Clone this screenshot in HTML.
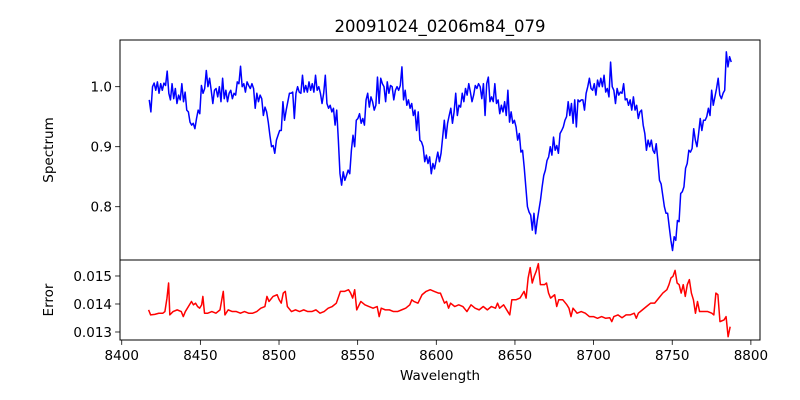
<!DOCTYPE html>
<html><head><meta charset="utf-8"><style>
body{margin:0;background:#fff;}
svg{display:block;font-family:"DejaVu Sans","Liberation Sans",sans-serif;}
</style></head><body>
<svg id="chart" width="800" height="400" viewBox="0 0 800 400">
<rect width="800" height="400" fill="#fff"/>
<text x="440" y="32" text-anchor="middle" font-size="16.5">20091024_0206m84_079</text>
<g id="topPanel"></g>
<g id="botPanel"></g>
<text transform="translate(53,150) rotate(-90)" text-anchor="middle" font-size="13.5">Spectrum</text>
<text transform="translate(53,300) rotate(-90)" text-anchor="middle" font-size="13.5">Error</text>
<text x="440" y="380" text-anchor="middle" font-size="13.5">Wavelength</text>
</svg>
<script>
const xTicks=[8400,8450,8500,8550,8600,8650,8700,8750,8800];
const specTicks=[0.8,0.9,1.0];
const specTickLabels=["0.8","0.9","1.0"];
const errTicks=[0.013,0.014,0.015];
const errTickLabels=["0.013","0.014","0.015"];
const specStart=8417.5, specEnd=8787.5;
const flux=[0.978,0.958,1.000,1.006,0.994,1.008,0.989,1.005,0.994,1.006,1.002,1.026,0.989,0.978,1.005,0.980,0.997,0.972,0.986,0.978,1.005,0.975,0.991,0.961,0.958,0.941,0.936,0.939,0.930,0.947,0.961,0.955,1.002,0.989,0.997,1.027,1.000,1.014,0.994,0.972,0.994,0.997,0.983,1.000,0.975,1.014,0.980,0.994,0.975,0.989,0.994,0.980,0.989,0.986,1.008,1.005,1.034,1.000,1.005,0.991,1.008,1.002,0.997,1.005,0.997,0.964,0.989,0.975,0.986,0.980,0.952,0.966,0.958,0.941,0.919,0.900,0.902,0.889,0.911,0.919,0.927,0.927,0.975,0.944,0.961,0.975,0.989,0.989,0.991,0.947,0.989,1.000,0.991,0.989,1.019,0.991,1.002,0.991,1.008,0.994,1.005,0.991,1.019,0.994,1.000,0.989,0.972,0.989,1.019,0.972,0.964,0.969,0.958,0.964,0.936,0.961,0.911,0.855,0.836,0.858,0.844,0.852,0.861,0.855,0.894,0.919,0.900,0.944,0.947,0.955,0.939,0.947,0.936,0.978,0.989,0.966,0.983,0.975,0.961,0.969,1.016,0.972,1.014,1.005,1.000,0.975,1.008,0.989,1.002,1.000,0.978,0.994,1.000,0.994,1.002,1.033,0.978,0.994,0.969,0.978,0.964,0.972,0.952,0.961,0.927,0.958,0.911,0.908,0.900,0.875,0.886,0.872,0.883,0.855,0.872,0.863,0.877,0.891,
0.875,0.889,0.916,0.944,0.914,0.939,0.952,0.964,0.939,0.958,0.989,0.952,0.969,0.966,0.989,0.975,0.997,0.986,1.005,0.991,0.975,0.986,1.002,0.997,1.005,1.000,0.980,1.005,0.952,1.005,1.016,0.975,0.983,0.975,1.005,0.972,0.978,0.955,0.969,0.958,0.975,0.952,0.994,0.941,0.958,0.939,0.944,0.933,0.911,0.922,0.891,0.894,0.866,0.833,0.800,0.791,0.786,0.761,0.789,0.755,0.777,0.794,0.811,0.833,0.852,0.861,0.877,0.883,0.900,0.886,0.916,0.894,0.902,0.889,0.922,0.927,0.933,0.944,0.950,0.975,0.952,0.972,0.939,0.978,0.933,0.978,0.975,0.978,0.978,0.961,0.989,1.000,1.014,0.997,0.994,1.005,0.986,1.011,1.000,1.014,1.000,1.019,0.991,0.997,0.983,1.041,1.000,0.994,0.972,0.997,0.986,0.991,0.989,1.005,0.978,0.980,0.969,0.978,0.961,0.983,0.961,0.969,0.947,0.958,0.961,0.936,0.922,0.894,0.911,0.900,0.911,0.894,0.889,0.905,0.877,0.844,0.838,0.819,0.800,0.789,0.789,0.766,0.744,0.727,0.750,0.744,0.777,0.775,0.822,0.825,0.833,0.864,0.872,0.894,0.891,0.897,0.930,0.911,0.900,0.922,0.947,0.927,0.944,0.944,0.950,0.964,0.952,0.994,0.969,0.983,0.997,1.014,0.986,0.980,0.989,0.994,1.058,1.033,1.050,1.041];
const errWl=[8417.08,8418.38,8420.97,8423.57,8426.16,8427.46,8428.76,8429.80,8430.57,8432.65,8435.25,8437.84,8439.14,8440.44,8443.03,8444.33,8445.62,8446.92,8448.22,8449.52,8450.81,8451.59,8452.63,8454.71,8457.30,8459.90,8462.49,8463.79,8464.57,8465.61,8467.68,8470.28,8472.87,8475.46,8478.06,8480.65,8483.25,8485.84,8488.44,8491.03,8492.33,8493.63,8496.22,8498.81,8500.11,8501.41,8502.71,8504.00,8505.30,8507.90,8510.49,8513.09,8515.68,8518.28,8520.87,8523.47,8526.06,8528.66,8531.25,8533.84,8536.44,8539.03,8541.63,8544.22,8545.52,8546.82,8548.12,8549.41,8552.01,8554.60,8557.20,8559.79,8562.39,8563.68,8564.98,8567.58,8570.17,8572.77,8575.36,8577.95,8580.55,8583.14,8584.44,8585.74,8588.33,8590.93,8593.52,8596.12,8598.71,8601.31,8602.60,8603.90,8605.20,8606.50,8607.79,8609.09,8611.69,8614.28,8616.87,8619.47,8622.06,8624.66,8627.25,8629.85,8632.44,8635.04,8637.63,8638.93,8640.23,8642.82,8645.42,8646.71,8648.01,8650.61,8653.20,8655.80,8657.09,8658.39,8659.69,8660.99,8662.28,8663.58,8664.88,8666.17,8668.77,8670.07,8671.36,8672.66,8675.26,8676.55,8677.85,8680.44,8683.04,8684.34,8685.63,8686.93,8689.53,8692.12,8694.72,8697.31,8699.90,8702.50,8705.09,8707.69,8710.28,8711.58,8712.88,8715.47,8718.07,8720.66,8723.26,8725.85,8727.15,8728.45,8731.04,8733.64,8736.23,8738.83,8741.42,8744.02,8746.61,8747.91,8749.21,8750.50,8751.80,8753.10,8754.39,8755.69,8756.99,8758.29,8759.58,8760.88,8762.18,8763.47,8764.77,8766.07,8767.37,8769.96,8772.55,8775.15,8776.45,8777.75,8779.04,8780.34,8782.93,8784.23,8785.53,8786.83];
const errVal=[13.79,13.61,13.63,13.67,13.67,13.73,14.21,14.75,13.61,13.73,13.79,13.73,13.55,13.73,13.97,14.09,13.97,14.03,13.91,13.85,13.97,14.27,13.67,13.67,13.73,13.67,13.79,14.21,14.45,13.61,13.79,13.73,13.73,13.67,13.73,13.67,13.67,13.73,13.85,13.91,14.27,14.09,14.27,14.33,14.15,14.03,14.39,14.45,13.91,13.73,13.79,13.73,13.79,13.73,13.73,13.79,13.67,13.73,13.85,13.91,14.03,14.45,14.45,14.51,14.39,14.21,14.51,13.79,14.09,13.97,13.91,13.85,13.91,13.55,13.85,13.79,13.79,13.73,13.73,13.79,13.85,13.97,14.15,14.09,14.03,14.33,14.45,14.51,14.45,14.39,14.39,14.21,14.03,14.09,13.85,14.03,13.91,13.97,13.91,13.73,13.97,13.85,13.79,13.91,13.79,13.91,13.85,14.03,13.85,13.97,13.73,13.61,14.15,14.15,14.21,14.45,14.21,14.93,15.30,14.75,14.99,15.18,15.44,14.69,14.69,14.75,14.39,14.21,14.33,13.91,14.15,14.15,13.97,13.85,13.55,13.85,13.67,13.73,13.67,13.55,13.55,13.49,13.55,13.49,13.51,13.37,13.55,13.61,13.51,13.61,13.61,13.67,13.49,13.67,13.79,13.91,14.03,14.03,14.21,14.39,14.51,14.69,14.93,14.99,15.20,14.75,14.69,14.39,14.69,14.27,14.69,14.87,14.39,14.15,13.67,14.09,13.73,13.73,13.73,13.67,13.61,14.39,14.33,13.37,13.43,13.55,12.83,13.19];

const NS="http://www.w3.org/2000/svg";
const L=120,R=760;
const X0=8398.9,X1=8805.8;
function sx(v){return L+(v-X0)/(X1-X0)*(R-L);}
const topT=40,topB=260,Y0=0.7112,Y1=1.0778;
function sy(v){return topB-(v-Y0)/(Y1-Y0)*(topB-topT);}
const botT=260,botB=340,E0=12.714,E1=15.571;
function se(v){return botB-(v-E0)/(E1-E0)*(botB-botT);}
function mk(tag,attrs,parent){const e=document.createElementNS(NS,tag);for(const k in attrs)e.setAttribute(k,attrs[k]);parent.appendChild(e);return e;}
const topG=document.getElementById('topPanel'),botG=document.getElementById('botPanel');

let d="";
const n=flux.length;
for(let i=0;i<n;i++){const w=specStart+(specEnd-specStart)*i/(n-1);d+=(i?"L":"M")+sx(w).toFixed(2)+","+sy(flux[i]).toFixed(2);}
const sp=mk('path',{d:d,fill:"none",stroke:"#0000ff","stroke-width":1.5,"stroke-linejoin":"round"},topG);


let d2="";
const m=Math.min(errWl.length,errVal.length);
for(let i=0;i<m;i++){d2+=(i?"L":"M")+sx(errWl[i]).toFixed(2)+","+se(errVal[i]).toFixed(2);}
const ep=mk('path',{d:d2,fill:"none",stroke:"#ff0000","stroke-width":1.5,"stroke-linejoin":"round"},botG);



const f1=mk('rect',{x:L,y:topT,width:R-L,height:topB-topT,fill:"none",stroke:"#000","stroke-width":1},topG);


const f2=mk('rect',{x:L,y:botT,width:R-L,height:botB-botT,fill:"none",stroke:"#000","stroke-width":1},botG);



specTicks.forEach((t,i)=>{const y=sy(t);
 mk('line',{x1:L-4.9,x2:L,y1:y,y2:y,stroke:"#000","stroke-width":0.8},topG);
 const tx=mk('text',{x:L-8,y:y+4.8,"text-anchor":"end","font-size":13.5},topG);tx.textContent=specTickLabels[i];
 
 });
errTicks.forEach((t,i)=>{const y=se(t*1000);
 mk('line',{x1:L-4.9,x2:L,y1:y,y2:y,stroke:"#000","stroke-width":0.8},botG);
 const tx=mk('text',{x:L-8,y:y+4.8,"text-anchor":"end","font-size":13.5},botG);tx.textContent=errTickLabels[i];
 
 });
xTicks.forEach(t=>{const x=sx(t);
 mk('line',{x1:x,x2:x,y1:botB,y2:botB+4.9,stroke:"#000","stroke-width":0.8},botG);
 const tx=mk('text',{x:x,y:botB+20,"text-anchor":"middle","font-size":13.5},botG);tx.textContent=String(t);
 
 });
</script>
</body></html>
